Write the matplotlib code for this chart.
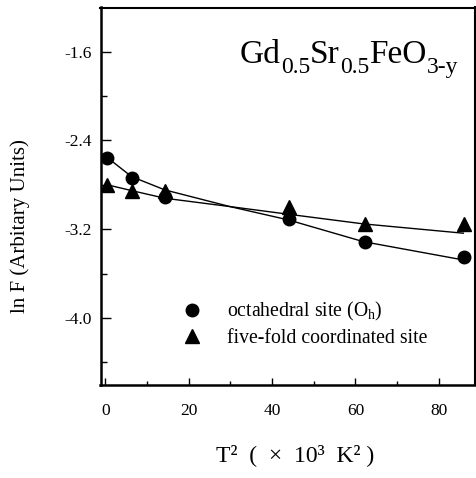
import matplotlib
matplotlib.use("Agg")
import matplotlib.pyplot as plt
from matplotlib.ticker import MultipleLocator, FixedLocator
from matplotlib.transforms import offset_copy

plt.rcParams['font.family'] = ['Liberation Serif', 'DejaVu Serif']
plt.rcParams['mathtext.fontset'] = 'custom'
plt.rcParams['mathtext.rm'] = 'Liberation Serif'
plt.rcParams['mathtext.it'] = 'Liberation Serif:italic'
plt.rcParams['mathtext.bf'] = 'Liberation Serif:bold'

# data (T^2 in 10^3 K^2)
t2 = [0.4, 6.4, 14.4, 44.1, 62.3, 86.0]
lnF_oct = [-2.555, -2.738, -2.913, -3.109, -3.315, -3.447]
lnF_five = [-2.80, -2.852, -2.86, -3.00, -3.155, -3.155]

# fitted curves
fit_t2 = [0.5, 6.3, 14.3, 29.9, 43.9, 61.9, 85.9]
fit_oct = [-2.555, -2.726, -2.846, -2.996, -3.116, -3.312, -3.477]
fit_five = [-2.800, -2.852, -2.921, -2.996, -3.065, -3.152, -3.236]

xticks = [0, 20, 40, 60, 80]
yticks = [-1.6, -2.4, -3.2, -4.0]
ytick_labels = ['-1.6', '-2.4', '-3.2', '-4.0']

# compound label pieces: (text, is_subscript)
title_parts = [('Gd', False), ('0.5', True), ('Sr', False), ('0.5', True),
               ('FeO', False), ('3-y', True)]

W, H = 476, 478
fig = plt.figure(figsize=(W / 100, H / 100), dpi=100)
ax = fig.add_axes([100.5 / W, 1 - 385 / H, (475 - 100.5) / W, (385 - 7.5) / H])

ax.plot(fit_t2, fit_oct, color='black', lw=1.0)
ax.plot(fit_t2, fit_five, color='black', lw=1.0)
ax.plot(t2, lnF_oct, 'o', color='black', ms=9, ls='none',
        label='octahedral site (O$_{\\rm h}$)')
ax.plot(t2, lnF_five, '^', color='black', ms=10, ls='none',
        label='five-fold coordinated site')

ax.set_xlim(-1.15, 88.7)
ax.set_ylim(-4.604, -1.202)

ax.xaxis.set_major_locator(FixedLocator(xticks))
ax.xaxis.set_minor_locator(MultipleLocator(10))
ax.yaxis.set_major_locator(FixedLocator(yticks))
ax.set_yticklabels(ytick_labels)
ax.yaxis.set_minor_locator(MultipleLocator(0.4))

ax.tick_params(which='both', direction='in', top=False, right=False)
ax.tick_params(axis='x', which='major', length=5, width=1, labelsize=12.5, pad=13)
ax.tick_params(axis='x', which='minor', length=3, width=1)
ax.tick_params(axis='y', which='major', length=7, width=1, labelsize=12.5, pad=6)
ax.tick_params(axis='y', which='minor', length=4, width=1)

for s in ['left', 'bottom']:
    ax.spines[s].set_linewidth(1.8)
for s in ['top', 'right']:
    ax.spines[s].set_linewidth(1.5)

# compound label, assembled piece by piece
renderer = fig.canvas.get_renderer()
x0 = 240 / W
y0 = 1 - 63 / H
xoff = 0.0
for txt, sub in title_parts:
    size = 17 if sub else 24
    dy = -10 if sub else 0
    tr = offset_copy(fig.transFigure, fig=fig, x=xoff, y=dy, units='dots')
    t = fig.text(x0, y0, txt, transform=tr, fontsize=size, ha='left',
                 va='baseline')
    xoff += t.get_window_extent(renderer=renderer).width

leg = ax.legend(loc='upper left', bbox_to_anchor=(182.7 / W, 1 - 300 / H),
                bbox_transform=fig.transFigure, frameon=False, fontsize=14.2,
                handlelength=0.9, handletextpad=1.35, labelspacing=0.3,
                borderpad=0, borderaxespad=0, numpoints=1)

fig.text(20 / W, 1 - 226 / H, 'ln F (Arbitary Units)', rotation=90,
         fontsize=15, ha='center', va='center')
fig.text(295 / W, 1 - 455 / H, 'T\u00b2  (  \u00d7  10\u00b3  K\u00b2 )',
         fontsize=17, ha='center', va='center')

fig.savefig('out.png', dpi=100)
